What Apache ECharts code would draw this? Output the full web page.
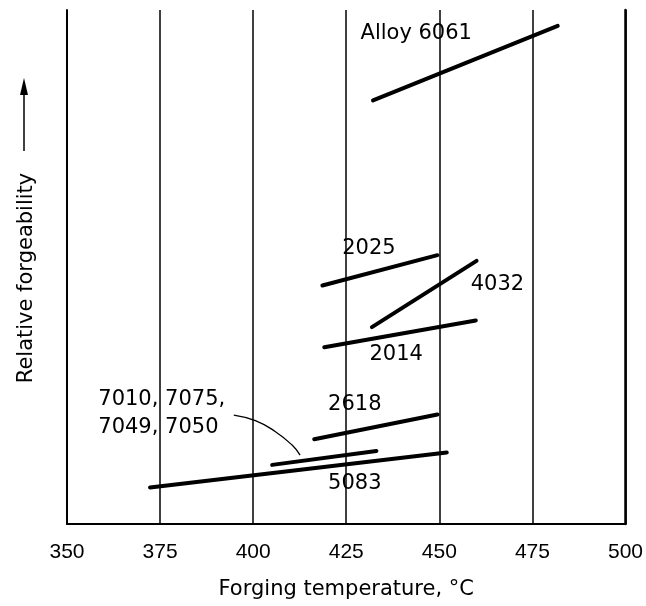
<!DOCTYPE html>
<html>
<head>
<meta charset="utf-8">
<script src="https://cdn.jsdelivr.net/npm/echarts@6/dist/echarts.min.js"></script>
<style>
  html, body { margin: 0; padding: 0; background: #fff; }
  #chart { width: 646px; height: 606px; }
</style>
</head>
<body>
<div id="chart"></div>
<script>
// Forging temperature ranges (°C) and relative forgeability for each alloy group
const alloys      = ['6061', '2025', '4032', '2014', '2618', '7010/7075/7049/7050', '5083'];
const tempStart   = [432.2, 418.6, 431.9, 419.1, 416.4, 405.1, 372.3];
const tempEnd     = [481.8, 449.5, 460.0, 459.8, 449.5, 433.1, 452.0];
const forgeStart  = [82.4, 46.4, 38.3, 34.4, 16.5, 11.5, 7.1];
const forgeEnd    = [96.9, 52.3, 51.2, 39.6, 21.3, 14.2, 13.9];

// Text labels placed next to each range
const labelText   = ['Alloy 6061', '2025', '4032', '2014', '2618', '7010, 7075,\n7049, 7050', '5083'];
const labelTemp   = [443.8, 431.1, 465.6, 438.4, 427.3, 358.4, 427.3];
const labelForge  = [95.4, 53.6, 46.5, 32.9, 23.2, 21.4, 7.9];

// Leader curve from the 7xxx label to its range
const leaderTemp  = [394.8, 400.6, 405.9, 410.4, 412.6];
const leaderForge = [21.2, 20.1, 18.0, 15.4, 13.4];

// Temperature axis ticks
const tempMin = 350, tempMax = 500, tempStep = 25;

const chart = echarts.init(document.getElementById('chart'), null, { renderer: 'canvas' });

const ink = '#000';
const textFont = 'DejaVu Sans, sans-serif';
const tickFont = "'Liberation Sans', Arial, sans-serif";

const rangeSeries = alloys.map((name, i) => ({
  name: name,
  type: 'line',
  data: [[tempStart[i], forgeStart[i]], [tempEnd[i], forgeEnd[i]]],
  symbol: 'none',
  silent: true,
  lineStyle: { color: ink, width: 4, cap: 'round' },
  z: 3
}));

const leaderSeries = {
  name: 'leader',
  type: 'line',
  data: leaderTemp.map((t, i) => [t, leaderForge[i]]),
  smooth: true,
  symbol: 'none',
  silent: true,
  lineStyle: { color: ink, width: 1.3 },
  z: 3
};

const labelSeries = {
  name: 'labels',
  type: 'scatter',
  symbolSize: 0,
  silent: true,
  itemStyle: { opacity: 1, color: ink },
  data: labelText.map((txt, i) => {
    const item = { value: [labelTemp[i], labelForge[i]], name: txt };
    if (txt.indexOf('\n') >= 0) {
      item.label = { align: 'left', lineHeight: 28 };
    }
    return item;
  }),
  label: {
    show: true,
    position: 'inside',
    formatter: p => p.name,
    color: ink,
    opacity: 1,
    fontFamily: textFont,
    fontSize: 21,
    align: 'center',
    verticalAlign: 'middle'
  },
  z: 4
};

const option = {
  backgroundColor: '#fff',
  animation: false,
  grid: { left: 67, right: 17, top: 10, bottom: 82 },
  xAxis: {
    type: 'value',
    min: tempMin,
    max: tempMax,
    interval: tempStep,
    name: 'Forging temperature, °C',
    nameLocation: 'middle',
    nameGap: 55,
    nameTextStyle: { color: ink, fontFamily: textFont, fontSize: 21 },
    axisLine: { show: true, onZero: false, lineStyle: { color: ink, width: 2 } },
    axisTick: { show: false },
    axisLabel: { color: ink, fontFamily: tickFont, fontSize: 21, margin: 18 },
    splitLine: { show: true, lineStyle: { color: ink, width: 1.5 } }
  },
  yAxis: [
    {
      type: 'value',
      min: 0,
      max: 100,
      name: 'Relative forgeability',
      nameLocation: 'middle',
      nameGap: 30,
      nameTextStyle: { color: ink, fontFamily: textFont, fontSize: 21, padding: [0, 22, 0, 0] },
      axisLine: { show: true, lineStyle: { color: ink, width: 2 } },
      axisTick: { show: false },
      axisLabel: { show: false },
      splitLine: { show: false }
    },
    {
      type: 'value',
      position: 'right',
      min: 0,
      max: 100,
      axisLine: { show: true, lineStyle: { color: ink, width: 2.5 } },
      axisTick: { show: false },
      axisLabel: { show: false },
      splitLine: { show: false }
    }
  ],
  graphic: [
    {
      type: 'group',
      left: 20,
      top: 78,
      children: [
        { type: 'line', shape: { x1: 5, y1: 14, x2: 5, y2: 73 }, style: { stroke: ink, lineWidth: 1.5 } },
        { type: 'polygon', shape: { points: [[5, 0], [1, 17], [9, 17]] }, style: { fill: ink } }
      ]
    }
  ],
  series: rangeSeries.concat([leaderSeries, labelSeries])
};

chart.setOption(option);
</script>
</body>
</html>
